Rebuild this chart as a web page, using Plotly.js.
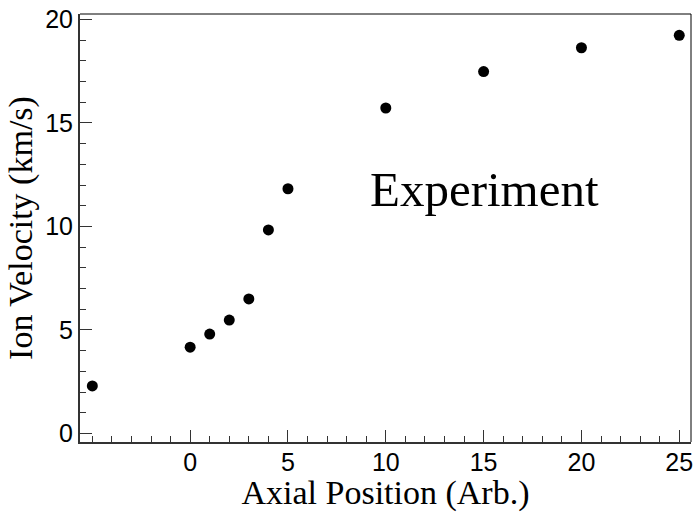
<!DOCTYPE html>
<html>
<head>
<meta charset="utf-8">
<script src="https://cdn.plot.ly/plotly-3.0.1.min.js"></script>
<style>html,body{margin:0;padding:0;background:#fff;}#chart{width:693px;height:512px;}</style>
</head>
<body>
<div id="chart"></div>
<script>
// Data
const axialPosition = [-5, 0, 1, 2, 3, 4, 5, 10, 15, 20, 25];
const ionVelocity   = [2.3, 4.17, 4.8, 5.48, 6.5, 9.83, 11.82, 15.72, 17.48, 18.63, 19.23];
const xTickVals = [0, 5, 10, 15, 20, 25];
const yTickVals = [0, 5, 10, 15, 20];
const xTitle = "Axial Position (Arb.)";
const yTitle = "Ion Velocity (km/s)";
const labelText = "Experiment";

const axisCol = '#333';
const trace = {
  x: axialPosition,
  y: ionVelocity,
  type: 'scatter',
  mode: 'markers',
  marker: {color: '#000', size: 11, symbol: 'circle'},
  hoverinfo: 'x+y'
};

const layout = {
  width: 693, height: 512,
  margin: {l: 80, r: 2, t: 14, b: 70, pad: 0},
  paper_bgcolor: '#fff', plot_bgcolor: '#fff',
  showlegend: false,
  xaxis: {
    range: [-5.63, 25.6],
    tickmode: 'array', tickvals: xTickVals, ticktext: xTickVals.map(String),
    ticks: 'inside', ticklen: 12, tickwidth: 1, tickcolor: axisCol,
    minor: {tickmode: 'linear', tick0: 0, dtick: 1, ticks: 'inside', ticklen: 6, tickwidth: 1, tickcolor: axisCol, showgrid: false},
    showline: true, linewidth: 2, linecolor: axisCol, mirror: false,
    showgrid: false, zeroline: false,
    ticklabelstandoff: -3,
    ticklabeloverflow: 'allow',
    tickfont: {family: 'Liberation Sans, Arial, sans-serif', size: 25, color: '#000'},
    title: {text: xTitle, font: {family: 'Liberation Serif, Times New Roman, serif', size: 34, color: '#000'}, standoff: 6},
    automargin: false
  },
  yaxis: {
    range: [-0.41, 20.26],
    tickmode: 'array', tickvals: yTickVals, ticktext: yTickVals.map(String),
    ticks: 'inside', ticklen: 12, tickwidth: 1, tickcolor: axisCol,
    minor: {tickmode: 'linear', tick0: 0, dtick: 1, ticks: 'inside', ticklen: 6, tickwidth: 1, tickcolor: axisCol, showgrid: false},
    showline: true, linewidth: 2, linecolor: axisCol, mirror: false,
    showgrid: false, zeroline: false,
    ticklabeloverflow: 'allow',
    tickfont: {family: 'Liberation Sans, Arial, sans-serif', size: 25, color: '#000'},
    title: {text: yTitle, font: {family: 'Liberation Serif, Times New Roman, serif', size: 34, color: '#000'}, standoff: 2},
    automargin: false
  },
  shapes: [
    {type: 'line', xref: 'paper', yref: 'paper', x0: 0, x1: 1, y0: 1, y1: 1, line: {color: '#000', width: 1}},
    {type: 'line', xref: 'paper', yref: 'paper', x0: 1, x1: 1, y0: 0, y1: 1, line: {color: '#000', width: 1}}
  ],
  annotations: [{
    x: 15.07, y: 11.8, xref: 'x', yref: 'y',
    text: labelText, showarrow: false, xanchor: 'center', yanchor: 'middle',
    font: {family: 'Liberation Serif, Times New Roman, serif', size: 49, color: '#000'}
  }]
};

Plotly.newPlot('chart', [trace], layout, {displayModeBar: false, staticPlot: true});
</script>
</body>
</html>
